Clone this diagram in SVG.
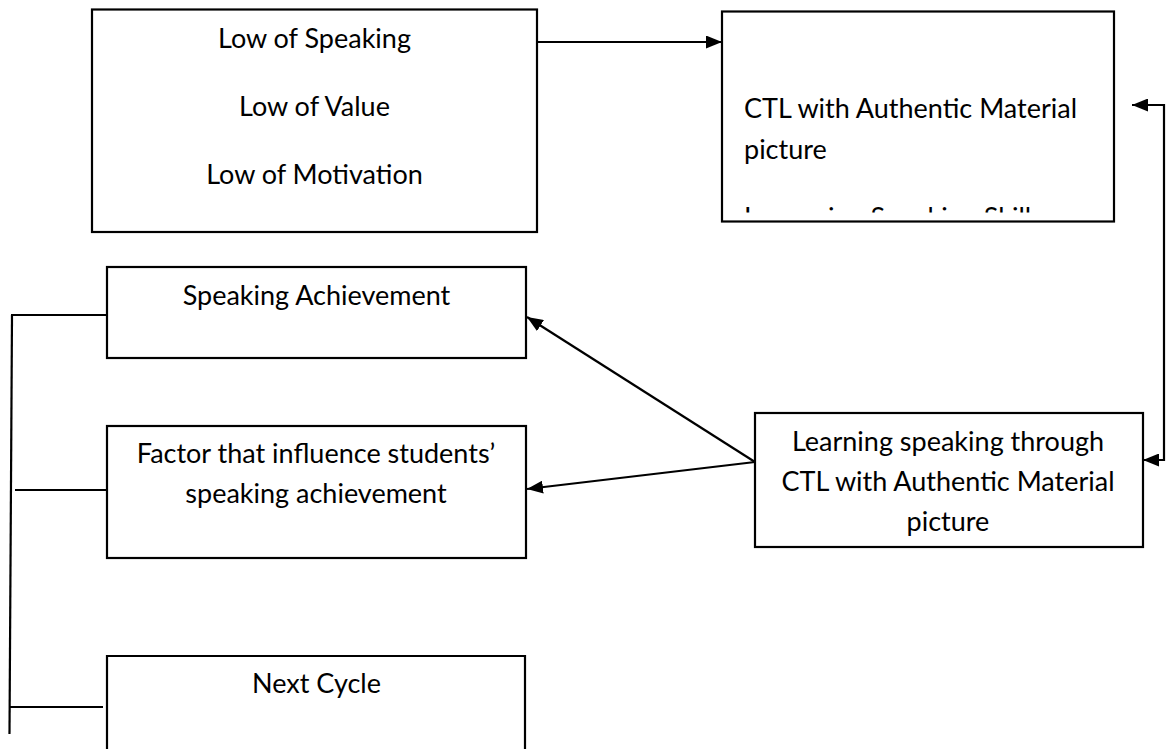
<svg xmlns="http://www.w3.org/2000/svg" width="1168" height="749" viewBox="0 0 1168 749">
  <style>
    .box { fill: #ffffff; stroke: #000000; stroke-width: 2.2; }
    .t { font-family: Lato, "Open Sans", "Liberation Sans", sans-serif; font-size: 27px; fill: #000000; }
    .c { text-anchor: middle; }
    .ln { fill: none; stroke: #000000; stroke-width: 2.2; }
  </style>
  <defs>
    <marker id="ah" viewBox="0 0 16 13" refX="16" refY="6.5" markerWidth="16" markerHeight="13" markerUnits="userSpaceOnUse" orient="auto-start-reverse">
      <path d="M0,0 L16,6.5 L0,13 z" fill="#000000"/>
    </marker>
    <clipPath id="clip2">
      <rect x="723" y="12" width="390" height="200.5"/>
    </clipPath>
  </defs>
  <rect width="1168" height="749" fill="#ffffff"/>

  <g id="problems">
    <rect class="box" x="92" y="9.5" width="445" height="222.5"/>
    <text class="t c" x="314.5" y="48">Low of Speaking</text>
    <text class="t c" x="314.5" y="116">Low of Value</text>
    <text class="t c" x="314.5" y="184">Low of Motivation</text>
  </g>

  <g id="ctl">
    <rect class="box" x="722" y="11.5" width="392" height="210"/>
    <text class="t" x="744" y="118">CTL with Authentic Material</text>
    <text class="t" x="744" y="159">picture</text>
    <text class="t" x="744" y="227" clip-path="url(#clip2)">Increasing Speaking Skill</text>
  </g>

  <g id="speaking-achievement">
    <rect class="box" x="107" y="267" width="419" height="91"/>
    <text class="t c" x="316.5" y="305">Speaking Achievement</text>
  </g>

  <g id="factor">
    <rect class="box" x="107" y="426" width="419" height="132"/>
    <text class="t c" x="316" y="463">Factor that influence students’</text>
    <text class="t c" x="316" y="503">speaking achievement</text>
  </g>

  <g id="learning">
    <rect class="box" x="755" y="413" width="388" height="134"/>
    <text class="t c" x="948" y="451">Learning speaking through</text>
    <text class="t c" x="948" y="491">CTL with Authentic Material</text>
    <text class="t c" x="948" y="531">picture</text>
  </g>

  <g id="next-cycle">
    <path class="ln" d="M107,760 L107,656 L525,656 L525,760"/>
    <text class="t c" x="316.5" y="693">Next Cycle</text>
  </g>

  <g id="connectors">
    <path class="ln" d="M537,42 L722,42" marker-end="url(#ah)"/>
    <path class="ln" d="M1143,460 L1164,460 L1164,105 L1132,105" marker-start="url(#ah)" marker-end="url(#ah)"/>
    <path class="ln" d="M755,462 L527,317" marker-end="url(#ah)"/>
    <path class="ln" d="M755,462 L527,489" marker-end="url(#ah)"/>
    <path class="ln" d="M12,315 L9.5,734"/>
    <path class="ln" d="M11,315 L107,315"/>
    <path class="ln" d="M15,490 L107,490"/>
    <path class="ln" d="M10,707 L103,707"/>
  </g>
</svg>
